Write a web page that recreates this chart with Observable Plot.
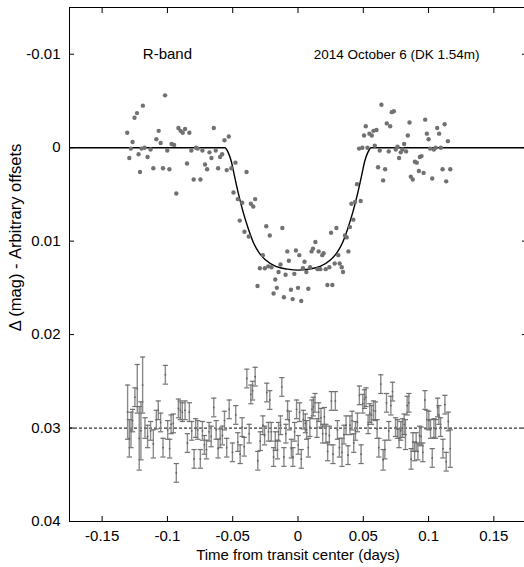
<!DOCTYPE html>
<html><head><meta charset="utf-8">
<script src="https://cdn.jsdelivr.net/npm/d3@7"></script>
<script src="https://cdn.jsdelivr.net/npm/@observablehq/plot@0.6"></script>
<style>
html,body{margin:0;padding:0;background:#fff;overflow:hidden;width:524px;height:567px}
#chart{width:524px;height:567px;overflow:hidden}
#chart svg{max-width:none !important;width:527px !important;height:567px !important}
</style></head><body><div id="chart"></div>
<script>
const xTicks = [-0.15, -0.1, -0.05, 0, 0.05, 0.1, 0.15];
const xTickLabels = ["-0.15", "-0.1", "-0.05", "0", "0.05", "0.1", "0.15"];
const yTicks = [-0.01, 0, 0.01, 0.02, 0.03, 0.04];
const yTickLabels = ["-0.01", "0", "0.01", "0.02", "0.03", "0.04"];
const xLabel = "Time from transit center (days)";
const yLabel = "\u0394 (mag) - Arbitrary offsets";
const bandLabel = ["R-band"];
const bandPos = [[-0.1, -0.01]];
const dateLabel = ["2014 October 6 (DK 1.54m)"];
const datePos = [[0.0755, -0.01]];
const residualOffset = [0.03];

// light curve: [time (days), delta mag]
const lightCurve = [
[-0.1308,-0.0016],[-0.1292,0.0011],[-0.1280,0.0001],[-0.1267,-0.0006],[-0.1252,-0.0032],[-0.1233,-0.0037],
[-0.1221,0.0007],[-0.1210,0.0026],[-0.1198,0.0001],[-0.1188,-0.0045],[-0.1175,0.0000],[-0.1152,0.0010],
[-0.1129,0.0002],[-0.1108,0.0022],[-0.1085,-0.0009],[-0.1067,-0.0018],[-0.1052,-0.0005],[-0.1034,0.0022],
[-0.1018,-0.0056],[-0.1001,0.0003],[-0.0985,0.0023],[-0.0968,-0.0004],[-0.0949,-0.0003],[-0.0932,0.0049],
[-0.0916,-0.0021],[-0.0899,-0.0018],[-0.0883,-0.0016],[-0.0865,-0.0020],[-0.0850,0.0017],[-0.0832,-0.0016],
[-0.0817,0.0003],[-0.0799,0.0034],[-0.0781,0.0000],[-0.0768,0.0001],[-0.0747,0.0034],[-0.0732,0.0003],
[-0.0712,0.0018],[-0.0696,0.0023],[-0.0678,0.0005],[-0.0663,0.0011],[-0.0645,-0.0021],[-0.0630,0.0003],
[-0.0612,0.0022],[-0.0597,0.0010],[-0.0581,0.0007],[-0.0563,-0.0008],[-0.0546,0.0024],[-0.0530,-0.0012],
[-0.0510,0.0022],[-0.0494,0.0048],[-0.0479,0.0016],[-0.0461,0.0055],[-0.0446,0.0078],[-0.0427,0.0059],
[-0.0410,0.0090],[-0.0394,0.0026],[-0.0377,0.0095],[-0.0361,0.0060],[-0.0343,0.0063],[-0.0328,0.0055],
[-0.0310,0.0148],[-0.0292,0.0129],[-0.0269,0.0115],[-0.0254,0.0129],[-0.0243,0.0084],[-0.0228,0.0127],
[-0.0216,0.0094],[-0.0203,0.0128],[-0.0187,0.0156],[-0.0174,0.0141],[-0.0162,0.0150],[-0.0149,0.0133],
[-0.0134,0.0125],[-0.0120,0.0086],[-0.0108,0.0160],[-0.0095,0.0136],[-0.0082,0.0111],[-0.0070,0.0121],
[-0.0054,0.0152],[-0.0041,0.0162],[-0.0028,0.0135],[-0.0016,0.0110],[0.0000,0.0150],[0.0010,0.0115],
[0.0025,0.0164],[0.0038,0.0129],[0.0050,0.0122],[0.0064,0.0133],[0.0079,0.0151],[0.0092,0.0128],
[0.0104,0.0111],[0.0115,0.0108],[0.0133,0.0101],[0.0150,0.0130],[0.0158,0.0111],[0.0171,0.0130],
[0.0186,0.0115],[0.0196,0.0113],[0.0212,0.0130],[0.0225,0.0147],[0.0240,0.0128],[0.0253,0.0091],
[0.0263,0.0147],[0.0281,0.0124],[0.0294,0.0086],[0.0309,0.0115],[0.0319,0.0124],[0.0335,0.0128],
[0.0345,0.0133],[0.0360,0.0094],[0.0373,0.0096],[0.0386,0.0111],[0.0398,0.0085],[0.0409,0.0060],
[0.0424,0.0077],[0.0437,0.0058],[0.0452,0.0039],[0.0468,0.0001],[0.0480,0.0057],[0.0493,0.0000],
[0.0506,-0.0013],[0.0519,-0.0023],[0.0532,0.0000],[0.0547,-0.0015],[0.0565,-0.0013],[0.0578,-0.0018],
[0.0588,-0.0002],[0.0601,-0.0019],[0.0613,0.0021],[0.0626,0.0003],[0.0639,-0.0046],[0.0652,0.0035],
[0.0667,0.0023],[0.0680,-0.0026],[0.0695,0.0004],[0.0706,-0.0023],[0.0718,-0.0038],[0.0734,-0.0039],
[0.0749,0.0002],[0.0762,-0.0001],[0.0774,0.0011],[0.0787,0.0005],[0.0800,0.0002],[0.0813,-0.0004],
[0.0828,0.0004],[0.0841,-0.0013],[0.0854,-0.0027],[0.0864,0.0031],[0.0879,0.0034],[0.0895,0.0015],
[0.0910,0.0016],[0.0926,0.0025],[0.0933,0.0010],[0.0946,0.0009],[0.0962,0.0027],[0.0974,-0.0030],
[0.0987,-0.0015],[0.1000,-0.0009],[0.1012,0.0001],[0.1028,0.0033],[0.1041,0.0002],[0.1054,0.0000],
[0.1066,-0.0021],[0.1081,-0.0015],[0.1094,0.0000],[0.1107,0.0023],[0.1123,-0.0025],[0.1135,0.0036],
[0.1148,-0.0007],[0.1166,0.0023]
];

// transit model curve: [time, delta mag]
const model = [
[-0.175,0],[-0.0560,0],[-0.0535,0.0005],[-0.0510,0.0015],[-0.0490,0.0028],[-0.0460,0.0047],
[-0.0420,0.0069],[-0.0380,0.0087],[-0.0340,0.0102],[-0.0300,0.0112],[-0.0250,0.0120],[-0.0170,0.0127],
[-0.0080,0.0130],[0,0.0131],[0.0080,0.0130],[0.0170,0.0127],[0.0250,0.0120],[0.0300,0.0112],
[0.0340,0.0102],[0.0380,0.0087],[0.0420,0.0069],[0.0460,0.0047],[0.0490,0.0028],[0.0510,0.0015],
[0.0535,0.0005],[0.0560,0],[0.175,0]
];

// residuals (offset by 0.03): [time, value, error]
const residuals = [
[-0.1305,0.0283,0.0029],[-0.1292,0.0311,0.0020],[-0.1279,0.0302,0.0019],[-0.1267,0.0292,0.0012],
[-0.1249,0.0267,0.0010],[-0.1231,0.0258,0.0026],[-0.1216,0.0311,0.0034],[-0.1203,0.0303,0.0031],
[-0.1190,0.0254,0.0030],[-0.1172,0.0300,0.0011],[-0.1152,0.0309,0.0012],[-0.1129,0.0303,0.0010],
[-0.1108,0.0317,0.0015],[-0.1085,0.0291,0.0010],[-0.1070,0.0281,0.0010],[-0.1052,0.0294,0.0010],
[-0.1034,0.0321,0.0010],[-0.1016,0.0243,0.0010],[-0.0998,0.0302,0.0010],[-0.0983,0.0322,0.0010],
[-0.0972,0.0296,0.0010],[-0.0955,0.0295,0.0010],[-0.0932,0.0348,0.0010],[-0.0916,0.0279,0.0010],
[-0.0901,0.0281,0.0010],[-0.0886,0.0283,0.0010],[-0.0865,0.0281,0.0010],[-0.0847,0.0316,0.0010],
[-0.0832,0.0283,0.0010],[-0.0814,0.0303,0.0010],[-0.0796,0.0333,0.0010],[-0.0784,0.0300,0.0010],
[-0.0768,0.0302,0.0010],[-0.0748,0.0333,0.0010],[-0.0732,0.0303,0.0010],[-0.0717,0.0318,0.0010],
[-0.0701,0.0323,0.0010],[-0.0681,0.0304,0.0010],[-0.0665,0.0309,0.0011],[-0.0645,0.0278,0.0010],
[-0.0627,0.0302,0.0010],[-0.0612,0.0322,0.0010],[-0.0596,0.0311,0.0010],[-0.0579,0.0308,0.0010],
[-0.0563,0.0292,0.0010],[-0.0546,0.0321,0.0010],[-0.0527,0.0280,0.0010],[-0.0502,0.0326,0.0010],
[-0.0477,0.0286,0.0010],[-0.0461,0.0315,0.0010],[-0.0443,0.0328,0.0010],[-0.0428,0.0299,0.0010],
[-0.0412,0.0320,0.0010],[-0.0392,0.0247,0.0010],[-0.0374,0.0306,0.0010],[-0.0361,0.0264,0.0010],
[-0.0348,0.0260,0.0010],[-0.0328,0.0245,0.0010],[-0.0308,0.0335,0.0010],[-0.0289,0.0314,0.0010],
[-0.0269,0.0297,0.0010],[-0.0256,0.0308,0.0010],[-0.0239,0.0262,0.0010],[-0.0226,0.0304,0.0010],
[-0.0216,0.0270,0.0010],[-0.0205,0.0304,0.0010],[-0.0187,0.0331,0.0010],[-0.0174,0.0314,0.0010],
[-0.0157,0.0323,0.0010],[-0.0149,0.0304,0.0010],[-0.0134,0.0297,0.0010],[-0.0124,0.0256,0.0010],
[-0.0108,0.0331,0.0010],[-0.0093,0.0306,0.0010],[-0.0080,0.0281,0.0010],[-0.0067,0.0292,0.0010],
[-0.0051,0.0322,0.0010],[-0.0039,0.0331,0.0010],[-0.0026,0.0304,0.0010],[-0.0011,0.0280,0.0010],
[0.0002,0.0318,0.0010],[0.0012,0.0283,0.0010],[0.0025,0.0333,0.0010],[0.0041,0.0291,0.0010],
[0.0056,0.0295,0.0010],[0.0066,0.0302,0.0010],[0.0079,0.0321,0.0010],[0.0091,0.0299,0.0010],
[0.0107,0.0280,0.0010],[0.0117,0.0277,0.0010],[0.0130,0.0273,0.0010],[0.0145,0.0300,0.0010],
[0.0158,0.0283,0.0010],[0.0176,0.0289,0.0010],[0.0189,0.0306,0.0010],[0.0202,0.0288,0.0010],
[0.0214,0.0306,0.0010],[0.0227,0.0325,0.0010],[0.0240,0.0308,0.0010],[0.0256,0.0271,0.0010],
[0.0268,0.0328,0.0010],[0.0286,0.0271,0.0010],[0.0302,0.0302,0.0010],[0.0317,0.0321,0.0010],
[0.0337,0.0326,0.0015],[0.0352,0.0307,0.0010],[0.0368,0.0297,0.0010],[0.0383,0.0329,0.0010],
[0.0398,0.0297,0.0010],[0.0414,0.0292,0.0010],[0.0427,0.0316,0.0010],[0.0440,0.0303,0.0010],
[0.0455,0.0294,0.0010],[0.0470,0.0265,0.0010],[0.0483,0.0328,0.0010],[0.0496,0.0274,0.0010],
[0.0509,0.0269,0.0010],[0.0521,0.0267,0.0010],[0.0537,0.0296,0.0010],[0.0550,0.0284,0.0010],
[0.0563,0.0286,0.0010],[0.0578,0.0281,0.0010],[0.0593,0.0282,0.0010],[0.0606,0.0301,0.0010],
[0.0619,0.0321,0.0010],[0.0634,0.0253,0.0010],[0.0652,0.0334,0.0011],[0.0665,0.0323,0.0010],
[0.0678,0.0273,0.0010],[0.0695,0.0303,0.0010],[0.0711,0.0276,0.0010],[0.0724,0.0261,0.0010],
[0.0747,0.0299,0.0010],[0.0762,0.0301,0.0010],[0.0774,0.0311,0.0010],[0.0787,0.0303,0.0010],
[0.0800,0.0300,0.0010],[0.0813,0.0296,0.0011],[0.0823,0.0307,0.0016],[0.0836,0.0276,0.0010],
[0.0849,0.0273,0.0010],[0.0866,0.0333,0.0011],[0.0880,0.0315,0.0010],[0.0893,0.0325,0.0010],
[0.0905,0.0315,0.0010],[0.0918,0.0325,0.0009],[0.0931,0.0308,0.0010],[0.0943,0.0309,0.0010],
[0.0956,0.0326,0.0010],[0.0972,0.0270,0.0010],[0.0987,0.0291,0.0010],[0.1002,0.0292,0.0010],
[0.1015,0.0301,0.0010],[0.1028,0.0332,0.0010],[0.1041,0.0300,0.0010],[0.1054,0.0301,0.0010],
[0.1069,0.0278,0.0010],[0.1079,0.0286,0.0010],[0.1092,0.0299,0.0010],[0.1110,0.0322,0.0010],
[0.1125,0.0275,0.0010],[0.1135,0.0336,0.0010],[0.1151,0.0293,0.0010],[0.1166,0.0322,0.0020]
];

const cap = {draw(context, size) { const w = Math.sqrt(size / Math.PI); context.moveTo(-w, 0); context.lineTo(w, 0); }};
const fmtX = d => xTickLabels[xTicks.indexOf(d)];
const fmtY = d => yTickLabels[yTicks.indexOf(d)];

const chart = Plot.plot({
  width: 527, height: 567,
  marginLeft: 69, marginRight: 1, marginTop: 7, marginBottom: 46,
  style: {fontFamily: "'Liberation Sans', Arial, Helvetica, sans-serif", fontSize: "15px", color: "#000", background: "#fff"},
  x: {domain: [-0.175, 0.175]},
  y: {domain: [-0.015, 0.04], reverse: true},
  marks: [
    Plot.ruleY(residualOffset, {stroke: "#333", strokeDasharray: "3,2", strokeWidth: 1.2}),
    Plot.ruleX(residuals, {x: d => d[0], y1: d => d[1] - d[2], y2: d => d[1] + d[2], stroke: "#8a8a8a", strokeWidth: 1.4}),
    Plot.dot(residuals, {x: d => d[0], y: d => d[1] - d[2], symbol: cap, r: 2.6, fill: "none", stroke: "#707070", strokeWidth: 1.2}),
    Plot.dot(residuals, {x: d => d[0], y: d => d[1] + d[2], symbol: cap, r: 2.6, fill: "none", stroke: "#707070", strokeWidth: 1.2}),
    Plot.dot(residuals, {x: d => d[0], y: d => d[1], r: 0.9, fill: "#606060"}),
    Plot.line(model, {x: d => d[0], y: d => d[1], stroke: "#000", strokeWidth: 1.4, curve: "monotone-x", clip: true}),
    Plot.dot(lightCurve, {x: d => d[0], y: d => d[1], r: 2.2, fill: "#717171"}),
    Plot.text(bandLabel, {x: (d, i) => bandPos[i][0], y: (d, i) => bandPos[i][1], text: d => d, fontSize: 15, fill: "#000"}),
    Plot.text(dateLabel, {x: (d, i) => datePos[i][0], y: (d, i) => datePos[i][1], text: d => d, fontSize: 13.5, fill: "#000"}),
    Plot.text([yLabel], {frameAnchor: "left", textAnchor: "middle", rotate: -90, dx: -54, dy: -27, text: d => d, fontSize: 16.5, fill: "#000"}),
    Plot.text([xLabel], {frameAnchor: "bottom", textAnchor: "middle", dy: 38, text: d => d, fontSize: 15, fill: "#000"}),
    Plot.frame({stroke: "#000", strokeWidth: 1}),
    Plot.axisX({anchor: "bottom", ticks: xTicks, tickFormat: fmtX, tickSize: -5, tickPadding: 14, label: null}),
    Plot.axisX({anchor: "top", ticks: xTicks, tickFormat: () => "", tickSize: -5, label: null}),
    Plot.axisY({anchor: "left", ticks: yTicks, tickFormat: fmtY, tickSize: -5, tickPadding: 14, label: null}),
    Plot.axisY({anchor: "right", ticks: yTicks, tickFormat: () => "", tickSize: -5, label: null})
  ]
});
document.getElementById("chart").appendChild(chart);
</script>
</body></html>
